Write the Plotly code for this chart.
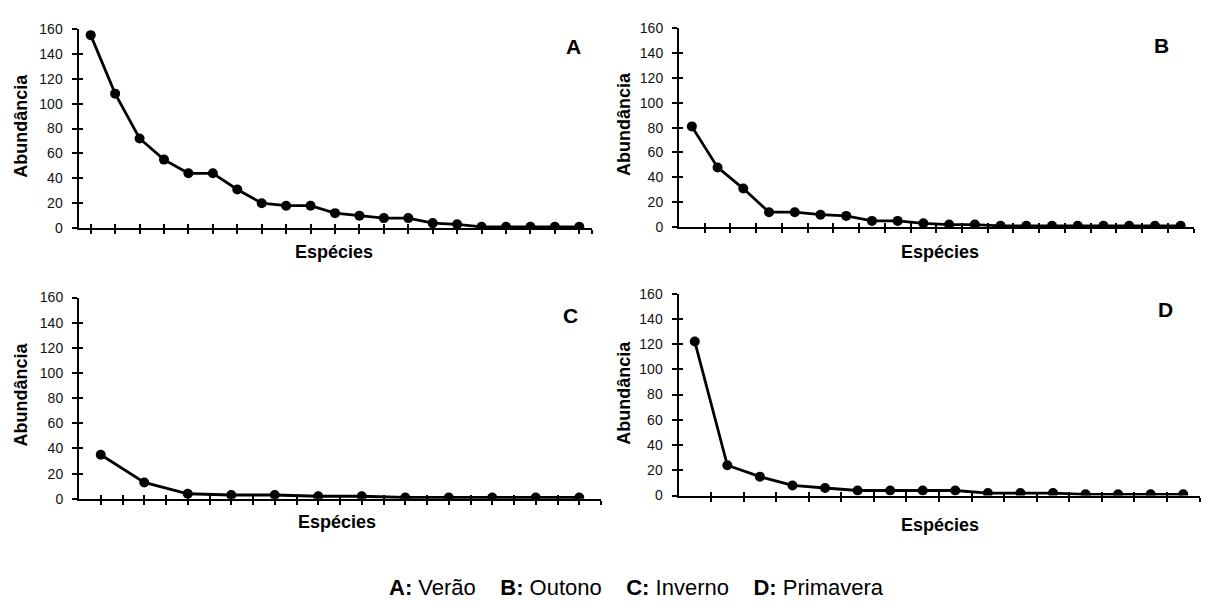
import plotly.graph_objects as go

W, H = 1209, 610

# ---------------- data ----------------
abund_A = [155, 108, 72, 55, 44, 44, 31, 20, 18, 18, 12, 10, 8, 8, 4, 3, 1, 1, 1, 1, 1]
abund_B = [81, 48, 31, 12, 12, 10, 9, 5, 5, 3, 2, 2, 1, 1, 1, 1, 1, 1, 1, 1]
abund_C = [35, 13, 4, 3, 3, 2, 2, 1, 1, 1, 1, 1]
abund_D = [122, 24, 15, 8, 6, 4, 4, 4, 4, 2, 2, 2, 1, 1, 1, 1]
y_ticks = [0, 20, 40, 60, 80, 100, 120, 140, 160]
panel_letters = ["A", "B", "C", "D"]
x_title = "Espécies"
y_title = "Abundância"
caption_keys = ["A:", "B:", "C:", "D:"]
caption_names = ["Verão", "Outono", "Inverno", "Primavera"]

series = [abund_A, abund_B, abund_C, abund_D]

# ---------------- layout geometry (pixels) ----------------
# (x_left, x_right, y_top(160), y_bottom(0))
boxes = [
    (78.5, 591.5, 21.5, 226.0),
    (679.0, 1193.5, 20.7, 225.0),
    (79.0, 601.0, 297.3, 504.0),
    (678.5, 1199.5, 293.3, 500.7),
]
tick_mode = ["at", "between", "both", "between"]
letter_pos = [(573, 39.5), (1161, 39), (570, 316), (1165, 310)]
xtitle_pos = [(334, 250.5), (940, 250.5), (337, 528), (940, 531)]
ytitle_pos = [(21, 121), (624, 119), (21, 397), (624, 395)]

FONT = "Liberation Sans, Arial, Helvetica, sans-serif"
BLACK = "#000000"

fig = go.Figure()
layout = dict(
    width=W, height=H,
    margin=dict(l=0, r=0, t=0, b=0),
    paper_bgcolor="white", plot_bgcolor="white",
    showlegend=False,
    font=dict(family=FONT, color=BLACK),
)

annotations = []

for i, vals in enumerate(series):
    k = i + 1
    n = len(vals)
    xs = list(range(1, n + 1))
    xl, xr, yt, yb = boxes[i]
    xdom = [xl / W, xr / W]
    ydom = [1 - yb / H, 1 - yt / H]
    sfx = "" if k == 1 else str(k)

    fig.add_trace(go.Scatter(
        x=xs, y=vals, mode="lines+markers",
        line=dict(color=BLACK, width=2.8),
        marker=dict(color=BLACK, size=10, symbol="circle"),
        xaxis="x" + sfx, yaxis="y" + sfx,
        hoverinfo="skip",
    ))

    if tick_mode[i] == "at":
        xt = [j for j in xs] + [n + 0.5]
    elif tick_mode[i] == "between":
        xt = [j + 0.5 for j in xs]
    else:
        xt = [j * 0.5 for j in range(2, 2 * n + 2)]

    xr_range = [0.5, n + 0.5]
    yr_range = [0, 160]

    common_x = dict(
        domain=xdom, range=xr_range, showgrid=False, zeroline=False,
        tickmode="array", tickvals=xt, showticklabels=False,
        tickcolor=BLACK, tickwidth=1.5, fixedrange=True,
    )
    common_y = dict(
        domain=ydom, range=yr_range, showgrid=False, zeroline=False,
        tickmode="array", tickvals=y_ticks, tickcolor=BLACK, tickwidth=1.5,
        fixedrange=True,
    )

    layout["xaxis" + sfx] = dict(
        common_x, anchor="y" + sfx, showline=True, linecolor=BLACK,
        linewidth=2, ticks="outside", ticklen=4,
    )
    layout["yaxis" + sfx] = dict(
        common_y, anchor="x" + sfx, showline=True, linecolor=BLACK,
        linewidth=2, ticks="outside", ticklen=5,
        ticktext=[str(v) for v in y_ticks],
        tickfont=dict(family=FONT, size=14, color="#111111"),
        ticklabelstandoff=6,
    )
    # overlay axes producing the inner half of the crossing tick marks
    ox = str(k + 4)
    layout["xaxis" + ox] = dict(
        common_x, anchor="y" + sfx, overlaying="x" + sfx, showline=False,
        ticks="inside", ticklen=4,
    )
    layout["yaxis" + ox] = dict(
        common_y, anchor="x" + sfx, overlaying="y" + sfx, side="left",
        showline=False, ticks="inside", ticklen=4, showticklabels=False,
    )
    fig.add_trace(go.Scatter(
        x=[None], y=[None], xaxis="x" + ox, yaxis="y" + sfx,
        mode="markers", hoverinfo="skip", showlegend=False,
    ))
    fig.add_trace(go.Scatter(
        x=[None], y=[None], xaxis="x" + sfx, yaxis="y" + ox,
        mode="markers", hoverinfo="skip", showlegend=False,
    ))

    lx, ly = letter_pos[i]
    annotations.append(dict(
        text="<b>%s</b>" % panel_letters[i], x=lx / W, y=1 - ly / H,
        xref="paper", yref="paper", xanchor="center", yanchor="middle",
        showarrow=False, font=dict(family=FONT, size=21, color=BLACK),
    ))
    tx, ty = xtitle_pos[i]
    annotations.append(dict(
        text="<b>%s</b>" % x_title, x=tx / W, y=1 - ty / H,
        xref="paper", yref="paper", xanchor="center", yanchor="middle",
        showarrow=False, font=dict(family=FONT, size=18, color=BLACK),
    ))
    vx, vy = ytitle_pos[i]
    annotations.append(dict(
        text="<b>%s</b>" % y_title, x=vx / W, y=1 - vy / H, textangle=-90,
        xref="paper", yref="paper", xanchor="center", yanchor="middle",
        showarrow=False, font=dict(family=FONT, size=18, color=BLACK),
    ))

gap = "\u00a0\u00a0\u00a0 "
caption = gap.join("<b>%s</b> %s" % (a, b) for a, b in zip(caption_keys, caption_names))
annotations.append(dict(
    text=caption, x=636 / W, y=0, xref="paper", yref="paper",
    xanchor="center", yanchor="bottom", showarrow=False,
    font=dict(family=FONT, size=22, color=BLACK),
))

layout["annotations"] = annotations
fig.update_layout(**layout)
fig.write_html("out.html")
